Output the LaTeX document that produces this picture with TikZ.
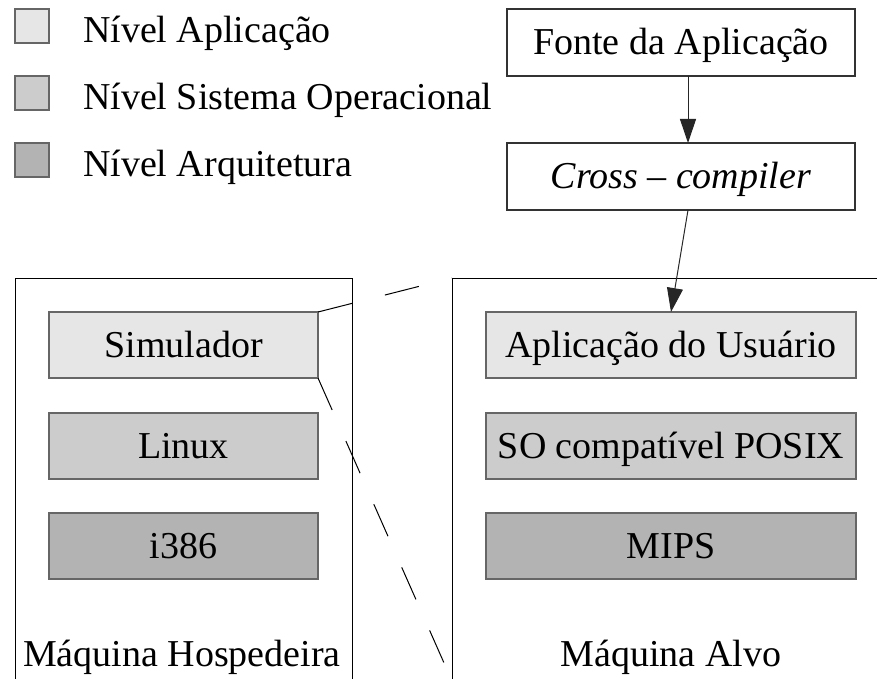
\documentclass[tikz,border=0pt]{standalone}
\usepackage{fontspec}
\setmainfont{Liberation Serif}
\usetikzlibrary{arrows.meta}
\definecolor{appfill}{HTML}{E6E6E6}
\definecolor{osfill}{HTML}{CCCCCC}
\definecolor{archfill}{HTML}{B3B3B3}
\begin{document}
\begin{tikzpicture}[x=1pt,y=-1pt,
  every node/.style={font=\fontsize{38}{44}\selectfont, inner sep=0pt, outer sep=0pt},
  layer/.style={draw=black!60, line width=1.4pt, anchor=north west,
    minimum height=66pt, text height=27pt, text depth=2pt},
  hostlayer/.style={layer, minimum width=269pt},
  tgtlayer/.style={layer, minimum width=370pt},
  swatch/.style={draw=black!60, line width=1.2pt, anchor=north west,
    minimum width=34pt, minimum height=34pt},
  legtxt/.style={anchor=base west},
  flowbox/.style={draw=black!80, line width=1.1pt, anchor=north west, fill=white,
    minimum width=348pt, minimum height=67pt, text height=27pt, text depth=2pt},
  machine/.style={draw=black, line width=1pt, anchor=north west},
  arr/.style={draw=black!85, line width=1pt, -{Triangle[length=24pt,width=16pt]}},
  lens/.style={draw=black, line width=1pt, dash pattern=on 35pt off 34pt}]

\useasboundingbox (0,0) rectangle (877,679);
\fill[white] (0,0) rectangle (877,679);
\clip (0,0) rectangle (877,679);

% legend
\node[swatch, fill=appfill]  (swapp)  at (15,9)   {};
\node[swatch, fill=osfill]   (swos)   at (15,76)  {};
\node[swatch, fill=archfill] (swarch) at (15,143) {};
\node[legtxt] (legapp)  at (83,43)  {Nível Aplicação};
\node[legtxt] (legos)   at (83,110) {Nível Sistema Operacional};
\node[legtxt] (legarch) at (83,177) {Nível Arquitetura};

% build flow
\node[flowbox] (fonte) at (507,9)   {Fonte da Aplicação};
\node[flowbox] (cross) at (507,143) {\textit{Cross} – \textit{compiler}};

% machines
\node[machine, minimum width=337pt, minimum height=403pt] (host) at (15,278)  {};
\node[machine, minimum width=427pt, minimum height=403pt] (tgt)  at (452,278) {};

% host layers
\node[hostlayer, fill=appfill]  (sim)   at (49,312) {Simulador};
\node[hostlayer, fill=osfill]   (linux) at (49,413) {Linux};
\node[hostlayer, fill=archfill] (i386)  at (49,513) {i386};
\node[anchor=base] (hostlbl) at (182,666) {Máquina Hospedeira};

% target layers
\node[tgtlayer, fill=appfill]  (app)  at (486,312) {Aplicação do Usuário};
\node[tgtlayer, fill=osfill]   (so)   at (486,413) {SO compatível POSIX};
\node[tgtlayer, fill=archfill] (mips) at (486,513) {MIPS};
\node[anchor=base] (tgtlbl) at (671,666) {Máquina Alvo};

% arrows
\draw[arr] ([xshift=7pt]fonte.south) -- ([xshift=7pt]cross.north);
\draw[arr] ([xshift=7pt]cross.south) -- (app.north);

% simulator expands to the target machine
\draw[lens] (sim.north east) -- (tgt.north west);
\draw[lens] (sim.south east) -- (tgt.south west);
\end{tikzpicture}
\end{document}
